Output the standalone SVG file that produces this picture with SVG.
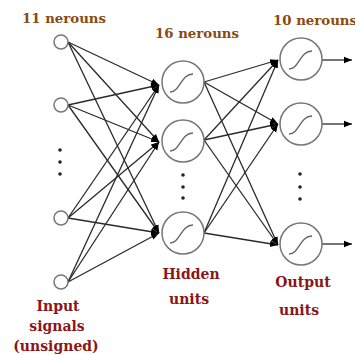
<svg xmlns="http://www.w3.org/2000/svg" width="355" height="355" viewBox="0 0 355 355">
<style>
.in{fill:#fff;stroke:#777;stroke-width:1.5}
.unit{fill:#fff;stroke:#777;stroke-width:1.5}
.sig{fill:none;stroke:#666;stroke-width:1.4}
.ln{stroke:#2a2a2a;stroke-width:1.3;fill:none;marker-end:url(#ah)}
.dot{fill:#222}
.hd{font-family:"DejaVu Serif","Liberation Serif",serif;font-weight:bold;font-size:13px;fill:#8a4a10}
.lb{font-family:"DejaVu Serif","Liberation Serif",serif;font-weight:bold;font-size:14px;fill:#8b1616;text-anchor:middle}
</style>
<defs>
<marker id="ah" viewBox="0 0 10 10" refX="10" refY="5" markerWidth="8" markerHeight="8" markerUnits="userSpaceOnUse" orient="auto">
<path d="M0,1 L10,5 L0,9 z" fill="#000"/>
</marker>
<path id="s" d="M-12,10 C-2,10 -1,-8 11,-8"/>
</defs>
<rect width="355" height="355" fill="#fff"/>
<g id="connectors">
<line class="ln" x1="68" y1="42" x2="159" y2="85"/>
<line class="ln" x1="68" y1="42" x2="159" y2="142"/>
<line class="ln" x1="68" y1="42" x2="159" y2="233"/>
<line class="ln" x1="68" y1="105" x2="159" y2="85"/>
<line class="ln" x1="68" y1="105" x2="159" y2="142"/>
<line class="ln" x1="68" y1="105" x2="159" y2="233"/>
<line class="ln" x1="68" y1="218" x2="159" y2="85"/>
<line class="ln" x1="68" y1="218" x2="159" y2="142"/>
<line class="ln" x1="68" y1="218" x2="159" y2="233"/>
<line class="ln" x1="68" y1="282" x2="159" y2="85"/>
<line class="ln" x1="68" y1="282" x2="159" y2="142"/>
<line class="ln" x1="68" y1="282" x2="159" y2="233"/>
<line class="ln" x1="204" y1="82" x2="278" y2="60"/>
<line class="ln" x1="204" y1="82" x2="278" y2="124"/>
<line class="ln" x1="204" y1="82" x2="278" y2="245"/>
<line class="ln" x1="204" y1="140" x2="278" y2="60"/>
<line class="ln" x1="204" y1="140" x2="278" y2="124"/>
<line class="ln" x1="204" y1="140" x2="278" y2="245"/>
<line class="ln" x1="204" y1="233" x2="278" y2="60"/>
<line class="ln" x1="204" y1="233" x2="278" y2="124"/>
<line class="ln" x1="204" y1="233" x2="278" y2="245"/>
<line class="ln" x1="322" y1="60" x2="352" y2="60"/>
<line class="ln" x1="322" y1="124" x2="352" y2="124"/>
<line class="ln" x1="322" y1="244" x2="352" y2="244"/>
</g>
<g id="input1"><circle class="in" cx="61" cy="42" r="7"/></g>
<g id="input2"><circle class="in" cx="61" cy="105" r="7"/></g>
<g id="input3"><circle class="in" cx="61" cy="218" r="7"/></g>
<g id="input4"><circle class="in" cx="61" cy="282" r="7"/></g>
<g id="input-dots"><circle class="dot" cx="60" cy="150" r="1.8"/><circle class="dot" cx="60" cy="162" r="1.8"/><circle class="dot" cx="60" cy="174" r="1.8"/></g>
<g id="hidden1"><circle class="unit" cx="183" cy="82" r="21"/><use href="#s" class="sig" x="182" y="82"/></g>
<g id="hidden2"><circle class="unit" cx="183" cy="141" r="21"/><use href="#s" class="sig" x="182" y="141"/></g>
<g id="hidden3"><circle class="unit" cx="183" cy="233" r="21"/><use href="#s" class="sig" x="182" y="233"/></g>
<g id="hidden-dots"><circle class="dot" cx="183" cy="175" r="1.8"/><circle class="dot" cx="183" cy="187" r="1.8"/><circle class="dot" cx="183" cy="198" r="1.8"/></g>
<g id="output1"><circle class="unit" cx="301" cy="59" r="21"/><use href="#s" class="sig" x="301" y="59"/></g>
<g id="output2"><circle class="unit" cx="301" cy="124" r="21"/><use href="#s" class="sig" x="301" y="124"/></g>
<g id="output3"><circle class="unit" cx="301" cy="244" r="21"/><use href="#s" class="sig" x="301" y="244"/></g>
<g id="output-dots"><circle class="dot" cx="300" cy="174" r="1.8"/><circle class="dot" cx="300" cy="187" r="1.8"/><circle class="dot" cx="300" cy="199" r="1.8"/></g>
<g id="labels">
<text class="hd" x="22" y="23" textLength="84" lengthAdjust="spacingAndGlyphs">11 nerouns</text>
<text class="hd" x="155" y="38" textLength="84" lengthAdjust="spacingAndGlyphs">16 nerouns</text>
<text class="hd" x="273" y="25" textLength="84" lengthAdjust="spacingAndGlyphs">10 nerouns</text>
<text class="lb" x="58" y="311">Input</text>
<text class="lb" x="57" y="331">signals</text>
<text class="lb" x="56" y="351">(unsigned)</text>
<text class="lb" x="191" y="279">Hidden</text>
<text class="lb" x="189" y="304">units</text>
<text class="lb" x="303" y="287">Output</text>
<text class="lb" x="299" y="315">units</text>
</g>
</svg>
